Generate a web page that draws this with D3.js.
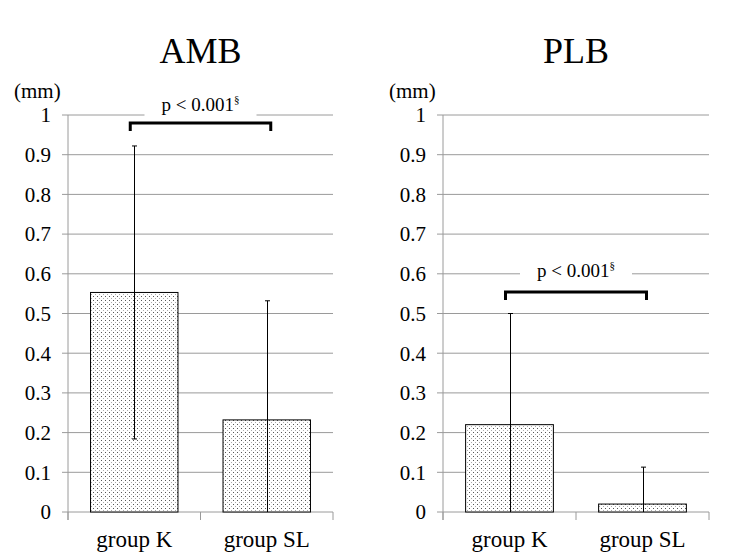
<!DOCTYPE html>
<html>
<head>
<meta charset="utf-8">
<script src="https://cdn.jsdelivr.net/npm/d3@7"></script>
<style>
  body { margin: 0; background: #fff; }
  svg text { font-family: "Liberation Serif", "DejaVu Serif", serif; fill: #000; }
</style>
</head>
<body>
<div id="chart"></div>
<script>
// values (mean and SD, mm)
const groups = ["group K", "group SL"];
const yTicks = [0, 0.1, 0.2, 0.3, 0.4, 0.5, 0.6, 0.7, 0.8, 0.9, 1];

const ambMean = [0.553, 0.232];
const ambSD = [0.369, 0.300];
const plbMean = [0.220, 0.020];
const plbSD = [0.280, 0.093];

const panelTitles = ["AMB", "PLB"];
const sigLabel = "p < 0.001";
const sigMark = "§";
// bracket height and label height (in data units) for each panel
const bracketLevel = [0.98, 0.554];
const labelLevel = [1.01, 0.592];

const svg = d3.select('#chart')
  .append('svg')
  .attr('width', 750)
  .attr('height', 559)
  .attr('font-family', 'Liberation Serif, DejaVu Serif, serif');

// dotted fill for bars
const pat = svg.append('defs').append('pattern')
  .attr('id', 'dots')
  .attr('patternUnits', 'userSpaceOnUse')
  .attr('width', 4)
  .attr('height', 4);
pat.append('rect').attr('width', 4).attr('height', 4).attr('fill', '#fff');
pat.append('rect').attr('x', 1).attr('y', 0).attr('width', 1).attr('height', 1).attr('fill', '#555');
pat.append('rect').attr('x', 3).attr('y', 2).attr('width', 1).attr('height', 1).attr('fill', '#aaa');

const y = d3.scaleLinear().domain([0, 1]).range([512, 115]);

function drawPanel(i, x0, x1, means, sds) {
  const g = svg.append('g');
  const x = d3.scaleBand().domain(groups).range([x0, x1])
    .paddingInner(0.34).paddingOuter(0.17);
  const half = x.step() * x.paddingInner() / 2;

  // gridlines with small ticks on the left
  g.selectAll('.grid').data(yTicks).enter().append('line')
    .attr('x1', x0 - 6).attr('x2', x1)
    .attr('y1', d => y(d)).attr('y2', d => y(d))
    .attr('stroke', '#9a9a9a').attr('stroke-width', 1);

  g.selectAll('.ylab').data(yTicks).enter().append('text')
    .attr('x', x0 - 17).attr('y', d => y(d))
    .attr('dy', '0.35em')
    .attr('text-anchor', 'end')
    .attr('font-size', 21)
    .text(d => d3.format('~g')(d));

  // y axis line
  g.append('line')
    .attr('x1', x0).attr('x2', x0).attr('y1', y(1)).attr('y2', y(0) + 8)
    .attr('stroke', '#9a9a9a');

  // category separators
  const seps = [x0, x(groups[1]) - half, x1];
  g.selectAll('.sep').data(seps).enter().append('line')
    .attr('x1', d => d).attr('x2', d => d)
    .attr('y1', y(0)).attr('y2', y(0) + 8)
    .attr('stroke', '#9a9a9a');

  g.append('text')
    .attr('x', x0 - 54).attr('y', 98)
    .attr('font-size', 21)
    .text('(mm)');

  g.append('text')
    .attr('x', (x0 + x1) / 2).attr('y', 63)
    .attr('text-anchor', 'middle')
    .attr('font-size', 36)
    .text(panelTitles[i]);

  // bars
  g.selectAll('.bar').data(groups).enter().append('rect')
    .attr('x', d => x(d))
    .attr('y', (d, j) => y(means[j]))
    .attr('width', x.bandwidth())
    .attr('height', (d, j) => y(0) - y(means[j]))
    .attr('fill', 'url(#dots)')
    .attr('stroke', '#000').attr('stroke-width', 1);

  // error bars
  groups.forEach((d, j) => {
    const cx = Math.round(x(d) + x.bandwidth() / 2) + 0.5;
    const hi = means[j] + sds[j];
    const lo = Math.max(0, means[j] - sds[j]);
    g.append('line')
      .attr('x1', cx).attr('x2', cx).attr('y1', y(hi)).attr('y2', y(lo))
      .attr('stroke', '#000').attr('stroke-width', 1);
    g.append('line')
      .attr('x1', cx - 2.5).attr('x2', cx + 2.5).attr('y1', y(hi)).attr('y2', y(hi))
      .attr('stroke', '#000');
    if (lo > 0) {
      g.append('line')
        .attr('x1', cx - 2.5).attr('x2', cx + 2.5).attr('y1', y(lo)).attr('y2', y(lo))
        .attr('stroke', '#000');
    }
  });

  // x labels
  g.selectAll('.xlab').data(groups).enter().append('text')
    .attr('x', d => x(d) + x.bandwidth() / 2)
    .attr('y', 547)
    .attr('text-anchor', 'middle')
    .attr('font-size', 23)
    .text(d => d);

  // significance bracket
  const bx0 = x(groups[0]) + x.bandwidth() / 2 - 4;
  const bx1 = x(groups[1]) + x.bandwidth() / 2 + 4;
  const by = y(bracketLevel[i]);
  g.append('path')
    .attr('d', `M${bx0},${by + 8}V${by}H${bx1}V${by + 8}`)
    .attr('fill', 'none').attr('stroke', '#000').attr('stroke-width', 3);

  const lx = (bx0 + bx1) / 2;
  const ly = y(labelLevel[i]);
  g.append('rect')
    .attr('x', lx - 56).attr('y', ly - 18)
    .attr('width', 112).attr('height', 26)
    .attr('fill', '#fff');
  const t = g.append('text')
    .attr('x', lx).attr('y', ly)
    .attr('text-anchor', 'middle')
    .attr('font-size', 19);
  t.append('tspan').text(sigLabel);
  t.append('tspan').attr('font-size', 11).attr('dy', -8).text(sigMark);
}

drawPanel(0, 68, 333, ambMean, ambSD);
drawPanel(1, 443, 709, plbMean, plbSD);
</script>
</body>
</html>
